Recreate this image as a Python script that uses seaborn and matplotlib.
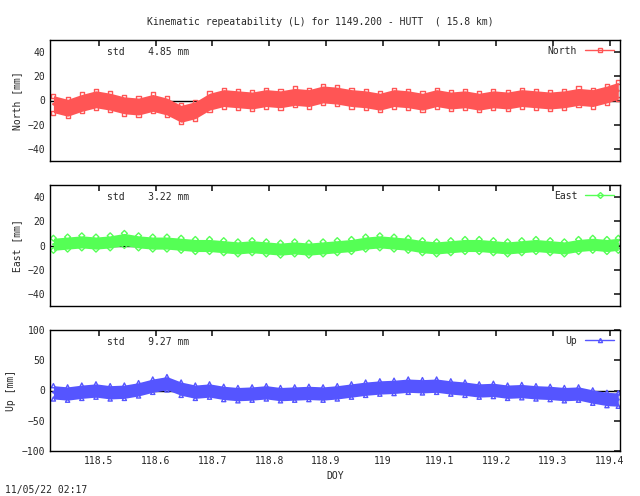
import matplotlib

matplotlib.use("Agg")

import matplotlib.pyplot as plt
import numpy as np
import pandas as pd
import seaborn as sns
from matplotlib.lines import Line2D

sns.set_theme(style="white")
plt.rcParams["font.family"] = "DejaVu Sans Mono"
plt.rcParams["font.size"] = 7

# epoch grid (DOY) and hand-read values in mm
doy = [118.42, 118.445, 118.47, 118.495, 118.52, 118.545, 118.57, 118.595, 118.62, 118.645,
       118.67, 118.695, 118.72, 118.745, 118.77, 118.795, 118.82, 118.845, 118.87, 118.895,
       118.92, 118.945, 118.97, 118.995, 119.02, 119.045, 119.07, 119.095, 119.12, 119.145,
       119.17, 119.195, 119.22, 119.245, 119.27, 119.295, 119.32, 119.345, 119.37, 119.395, 119.415]
north = [-3, -6, -2, 1, -1, -4, -5, -2, -5, -11, -8, -1, 2, 1, 0, 2, 1, 3, 2, 5,
         4, 2, 1, -1, 2, 1, -1, 2, 0, 1, -1, 1, 0, 2, 1, 0, 1, 3, 2, 5, 8]
east = [1, 2, 3, 2, 3, 5, 3, 2, 2, 1, 0, 0, -1, -2, -1, -2, -3, -2, -3, -2,
        -1, 0, 2, 3, 2, 1, -1, -2, -1, 0, 0, -1, -2, -1, 0, -1, -2, 0, 1, 0, 1]
up = [-3, -5, -2, 0, -3, -2, 2, 8, 12, 3, -2, 0, -4, -6, -5, -3, -6, -5, -4, -5,
      -3, 0, 3, 5, 6, 8, 7, 8, 5, 3, 0, 1, -2, -1, -3, -4, -6, -5, -10, -14, -15]
half_width = {"North": 7, "East": 5, "Up": 11}
std_mm = {"North": 4.85, "East": 3.22, "Up": 9.27}

panels = [
    ("North", north, "#ff5555", "s", (-50, 50), [-40, -20, 0, 20, 40], 40),
    ("East", east, "#55ff55", "D", (-50, 50), [-40, -20, 0, 20, 40], 185),
    ("Up", up, "#5555ff", "^", (-100, 100), [-100, -50, 0, 50, 100], 330),
]

W, H = 640, 496
fig = plt.figure(figsize=(W / 100, H / 100), dpi=100)
xticks = [118.5, 118.6, 118.7, 118.8, 118.9, 119, 119.1, 119.2, 119.3, 119.4]
xlabels = ["118.5", "118.6", "118.7", "118.8", "118.9", "119", "119.1", "119.2", "119.3", "119.4"]

for name, vals, color, marker, ylim, yticks, top in panels:
    ax = fig.add_axes([50 / W, 1 - (top + 121) / H, 570 / W, 121 / H])
    df = pd.DataFrame({"doy": doy, "val": vals})
    hw = half_width[name]
    v = np.array(vals)
    ax.axhline(0, color="black", lw=1, zorder=0.5)
    ax.fill_between(doy, v - hw, v + hw, color=color, lw=0)
    for off in (-hw, hw):
        sns.scatterplot(x=doy, y=v + off, ax=ax, marker=marker, s=9,
                        facecolor="none", edgecolor=color, linewidth=1)
    sns.lineplot(data=df, x="doy", y="val", ax=ax, color=color, lw=2)
    ax.set_xlim(118.414, 119.418)
    ax.set_ylim(*ylim)
    ax.set_yticks(yticks)
    ax.set_xticks(xticks)
    ax.set_xticklabels(xlabels if name == "Up" else [])
    ax.set_ylabel(f"{name} [mm]", fontsize=7)
    ax.set_xlabel("DOY" if name == "Up" else "", fontsize=7)
    ax.tick_params(direction="in", length=4, labelsize=7, top=True, right=True)
    for s in ax.spines.values():
        s.set_color("black")
        s.set_linewidth(1)
    ax.text(0.1, 0.9, f"std    {std_mm[name]:.2f} mm", transform=ax.transAxes, fontsize=7, va="center")
    h = Line2D([], [], color=color, marker=marker, markersize=3, markerfacecolor="none", lw=1)
    ax.legend([h], [name], loc="upper right", frameon=False, fontsize=7,
              handlelength=3, markerfirst=False, borderaxespad=0.2)

fig.text(0.5, 1 - 22 / H, "Kinematic repeatability (L) for 1149.200 - HUTT  ( 15.8 km)",
         ha="center", va="center", fontsize=7)
fig.text(5 / W, 1 - 490 / H, "11/05/22 02:17", fontsize=7, va="center")
fig.savefig("out.png", dpi=100)
